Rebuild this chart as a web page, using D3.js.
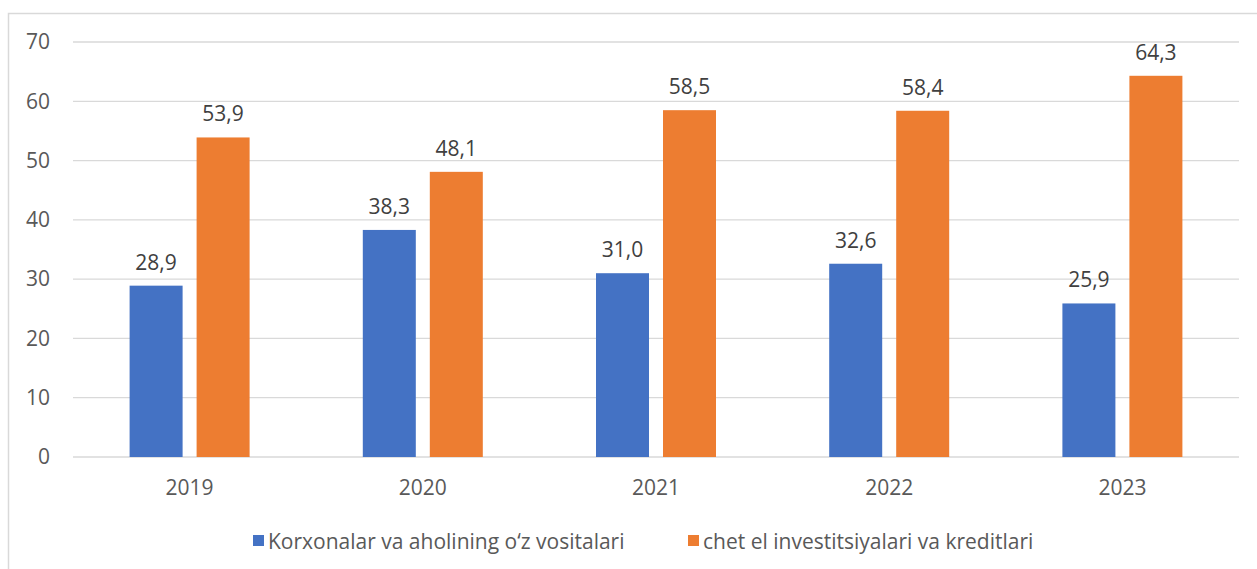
<!DOCTYPE html>
<html>
<head>
<meta charset="utf-8">
<script src="https://cdn.jsdelivr.net/npm/d3@7"></script>
<style>
  body { margin: 0; background: #fff; }
  svg { display: block; }
</style>
</head>
<body>
<svg width="1257" height="569"></svg>
<script>
var years = ["2019", "2020", "2021", "2022", "2023"];
var ownFunds = [28.9, 38.3, 31.0, 32.6, 25.9];
var foreignFunds = [53.9, 48.1, 58.5, 58.4, 64.3];
var seriesNames = ["Korxonalar va aholining o\u2018z vositalari", "chet el investitsiyalari va kreditlari"];
var seriesColors = ["#4472c4", "#ed7d31"];
var yTicks = [0, 10, 20, 30, 40, 50, 60, 70];

var fontFam = "'Open Sans', sans-serif";
var fontSize = 21;
var svg = d3.select("svg");

// outer chart border
svg.append("rect")
    .attr("x", 8.5).attr("y", 13.5)
    .attr("width", 1260).attr("height", 600)
    .attr("fill", "none")
    .attr("stroke", "#d9d9d9")
    .attr("stroke-width", 1.5);

var plotLeft = 73, plotRight = 1239, plotTop = 42, plotBottom = 457;

var x = d3.scaleBand().domain(years).range([plotLeft, plotRight]);
var y = d3.scaleLinear().domain([0, 70]).range([plotBottom, plotTop]);
var barW = 53, gap = 14;

// gridlines
svg.append("g")
    .selectAll("line")
    .data(yTicks)
    .join("line")
    .attr("x1", plotLeft).attr("x2", plotRight)
    .attr("y1", d => y(d)).attr("y2", d => y(d))
    .attr("stroke", "#d9d9d9")
    .attr("stroke-width", 1.3);

// y axis labels
var yAxis = d3.axisLeft(y).tickValues(yTicks).tickSize(0).tickPadding(0);
svg.append("g")
    .attr("transform", "translate(50,0)")
    .call(yAxis)
    .call(g => g.select(".domain").remove())
    .selectAll("text")
    .attr("font-family", fontFam)
    .attr("font-size", fontSize)
    .attr("fill", "#595959");

// x axis labels
var xAxis = d3.axisBottom(x).tickSize(0).tickPadding(0);
svg.append("g")
    .attr("transform", "translate(0," + (plotBottom + 23) + ")")
    .call(xAxis)
    .call(g => g.select(".domain").remove())
    .selectAll("text")
    .attr("font-family", fontFam)
    .attr("font-size", fontSize)
    .attr("fill", "#595959");

var series = [ownFunds, foreignFunds];
series.forEach(function(vals, si) {
    var offset = si == 0 ? -(gap / 2 + barW) : gap / 2;
    var g = svg.append("g");
    g.selectAll("rect")
        .data(vals)
        .join("rect")
        .attr("x", (d, i) => x(years[i]) + x.bandwidth() / 2 + offset)
        .attr("y", d => y(d))
        .attr("width", barW)
        .attr("height", d => plotBottom - y(d))
        .attr("fill", seriesColors[si]);
    g.selectAll("text")
        .data(vals)
        .join("text")
        .attr("x", (d, i) => x(years[i]) + x.bandwidth() / 2 + offset + barW / 2)
        .attr("y", d => y(d) - 16)
        .attr("text-anchor", "middle")
        .attr("font-family", fontFam)
        .attr("font-size", fontSize)
        .attr("fill", "#404040")
        .text(d => d.toFixed(1).replace(".", ","));
});

// legend
var legendX = [253, 688];
var legend = svg.append("g");
seriesNames.forEach(function(name, i) {
    legend.append("rect")
        .attr("x", legendX[i]).attr("y", 535)
        .attr("width", 11).attr("height", 11)
        .attr("fill", seriesColors[i]);
    legend.append("text")
        .attr("x", legendX[i] + 15).attr("y", 549)
        .attr("font-family", fontFam)
        .attr("font-size", fontSize)
        .attr("fill", "#595959")
        .text(name);
});
</script>
</body>
</html>
